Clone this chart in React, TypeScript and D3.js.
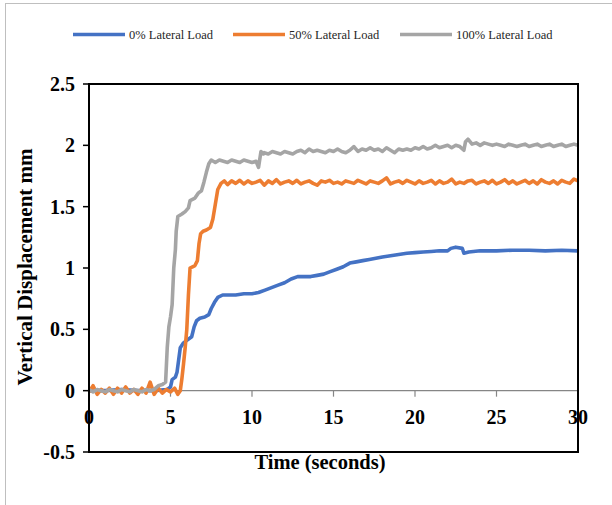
import React from "react";
import * as d3 from "d3";

const seriesNames = ["0% Lateral Load", "50% Lateral Load", "100% Lateral Load"];
const seriesColors = ["#4472C4", "#ED7D31", "#A5A5A5"];
const xTicks = [0, 5, 10, 15, 20, 25, 30];
const yTicks = [-0.5, 0, 0.5, 1, 1.5, 2, 2.5];
const yTickLabels = ["-0.5", "0", "0.5", "1", "1.5", "2", "2.5"];

const load0: [number, number][] = [
  [0, 0.0], [1, 0.0], [2, 0.01], [3, 0.0], [4, 0.0], [4.8, 0.01], [5.0, 0.03], [5.1, 0.09], [5.3, 0.11],
  [5.4, 0.15], [5.5, 0.25], [5.6, 0.35], [5.8, 0.39], [6.0, 0.41], [6.3, 0.44], [6.45, 0.52], [6.6, 0.57],
  [6.8, 0.59], [7.1, 0.6], [7.35, 0.62], [7.5, 0.67], [7.7, 0.72], [7.9, 0.76], [8.2, 0.78], [8.6, 0.78],
  [9, 0.78], [9.5, 0.79], [10, 0.79], [10.4, 0.8], [10.8, 0.82], [11.2, 0.84], [11.6, 0.86], [12, 0.88],
  [12.4, 0.91], [12.8, 0.93], [13.2, 0.93], [13.6, 0.93], [14, 0.94], [14.4, 0.95], [14.8, 0.97],
  [15.2, 0.99], [15.6, 1.01], [16, 1.04], [16.4, 1.05], [16.8, 1.06], [17.2, 1.07], [17.6, 1.08],
  [18, 1.09], [18.5, 1.1], [19, 1.11], [19.5, 1.12], [20, 1.125], [20.5, 1.13], [21, 1.135], [21.5, 1.14],
  [22, 1.14], [22.2, 1.16], [22.5, 1.17], [22.9, 1.16], [23.0, 1.12], [23.3, 1.13], [24, 1.14], [25, 1.14],
  [26, 1.145], [27, 1.145], [28, 1.14], [29, 1.145], [30, 1.14],
];

const load50: [number, number][] = [
  [0, -0.01], [0.25, 0.04], [0.5, -0.03], [0.75, 0.01], [1, -0.02], [1.25, 0.02], [1.5, -0.03], [1.75, 0.02],
  [2, -0.02], [2.25, 0.03], [2.5, -0.02], [2.75, 0.01], [3, -0.03], [3.25, 0.02], [3.5, -0.02], [3.75, 0.07],
  [4, -0.03], [4.25, 0.02], [4.5, -0.02], [4.75, 0.01], [5, -0.01], [5.25, 0.02], [5.45, -0.03], [5.6, 0.0],
  [5.7, 0.1], [5.8, 0.22], [5.9, 0.35], [6.0, 0.5], [6.1, 0.78], [6.2, 1.0], [6.35, 1.01], [6.5, 1.02],
  [6.65, 1.06], [6.75, 1.2], [6.85, 1.28], [7.0, 1.3], [7.2, 1.31], [7.45, 1.33], [7.6, 1.4], [7.75, 1.52],
  [7.9, 1.64], [8.1, 1.69], [8.3, 1.71], [8.5, 1.68], [8.75, 1.71], [9, 1.69], [9.25, 1.715], [9.5, 1.685],
  [9.75, 1.71], [10, 1.69], [10.25, 1.7], [10.5, 1.715], [10.75, 1.675], [11, 1.71], [11.25, 1.69],
  [11.5, 1.72], [11.75, 1.685], [12, 1.7], [12.25, 1.71], [12.5, 1.69], [12.75, 1.715], [13, 1.685],
  [13.25, 1.7], [13.5, 1.71], [13.75, 1.69], [14, 1.675], [14.25, 1.71], [14.5, 1.7], [14.75, 1.715],
  [15, 1.69], [15.25, 1.7], [15.5, 1.685], [15.75, 1.71], [16, 1.7], [16.25, 1.69], [16.5, 1.715],
  [16.75, 1.7], [17, 1.685], [17.25, 1.71], [17.5, 1.7], [17.75, 1.69], [18, 1.71], [18.25, 1.735],
  [18.5, 1.685], [18.75, 1.7], [19, 1.71], [19.25, 1.69], [19.5, 1.715], [19.75, 1.7], [20, 1.685],
  [20.25, 1.71], [20.5, 1.69], [20.75, 1.7], [21, 1.715], [21.25, 1.685], [21.5, 1.71], [21.75, 1.69],
  [22, 1.7], [22.25, 1.725], [22.5, 1.685], [22.75, 1.7], [23, 1.69], [23.25, 1.71], [23.5, 1.715],
  [23.75, 1.685], [24, 1.7], [24.25, 1.71], [24.5, 1.69], [24.75, 1.715], [25, 1.685], [25.25, 1.7],
  [25.5, 1.72], [25.75, 1.69], [26, 1.71], [26.25, 1.685], [26.5, 1.7], [26.75, 1.715], [27, 1.69],
  [27.25, 1.71], [27.5, 1.685], [27.75, 1.72], [28, 1.7], [28.25, 1.69], [28.5, 1.71], [28.75, 1.685],
  [29, 1.715], [29.25, 1.7], [29.5, 1.69], [29.75, 1.725], [30, 1.71],
];

const load100: [number, number][] = [
  [0, 0.01], [0.25, -0.01], [0.5, 0.01], [0.75, 0.0], [1, -0.01], [1.25, 0.01], [1.5, 0.0], [1.75, -0.01],
  [2, 0.01], [2.25, 0.0], [2.5, -0.01], [2.75, 0.01], [3, 0.0], [3.25, -0.01], [3.5, 0.01], [3.75, 0.0],
  [4, 0.01], [4.25, 0.04], [4.5, 0.05], [4.7, 0.07], [4.8, 0.35], [4.9, 0.52], [5.0, 0.6], [5.1, 0.7],
  [5.2, 1.0], [5.3, 1.15], [5.35, 1.3], [5.45, 1.42], [5.7, 1.44], [5.9, 1.46], [6.1, 1.49], [6.2, 1.55],
  [6.5, 1.57], [6.7, 1.61], [6.9, 1.63], [7.05, 1.7], [7.2, 1.78], [7.35, 1.85], [7.5, 1.88], [7.75, 1.86],
  [8, 1.88], [8.25, 1.87], [8.5, 1.86], [8.75, 1.88], [9, 1.87], [9.25, 1.86], [9.5, 1.88], [9.75, 1.87],
  [10, 1.86], [10.25, 1.87], [10.4, 1.82], [10.55, 1.95], [10.7, 1.93], [10.75, 1.94], [11, 1.93],
  [11.25, 1.95], [11.5, 1.94], [11.75, 1.93], [12, 1.95], [12.25, 1.94], [12.5, 1.93], [12.75, 1.95],
  [13, 1.96], [13.25, 1.94], [13.5, 1.97], [13.75, 1.95], [14, 1.96], [14.25, 1.95], [14.5, 1.94],
  [14.75, 1.96], [15, 1.95], [15.25, 1.97], [15.5, 1.95], [15.75, 1.94], [16, 1.96], [16.25, 1.99],
  [16.5, 1.95], [16.75, 1.97], [17, 1.96], [17.25, 1.98], [17.5, 1.96], [17.75, 1.97], [18, 1.95],
  [18.25, 1.98], [18.5, 1.96], [18.75, 1.94], [19, 1.97], [19.25, 1.96], [19.5, 1.97], [19.75, 1.96],
  [20, 1.98], [20.25, 1.97], [20.5, 1.99], [20.75, 1.97], [21, 1.98], [21.25, 2.0], [21.5, 1.98],
  [21.75, 1.99], [22, 2.0], [22.25, 1.98], [22.5, 2.0], [22.75, 1.99], [23, 1.96], [23.1, 2.03],
  [23.25, 2.05], [23.5, 2.01], [23.75, 2.02], [24, 2.0], [24.25, 2.02], [24.5, 2.01], [24.75, 2.0],
  [25, 2.01], [25.25, 2.0], [25.5, 1.99], [25.75, 2.01], [26, 2.0], [26.25, 1.99], [26.5, 2.0],
  [26.75, 2.01], [27, 1.99], [27.25, 2.0], [27.5, 2.01], [27.75, 1.99], [28, 2.0], [28.25, 2.01],
  [28.5, 1.99], [28.75, 2.0], [29, 2.01], [29.25, 1.99], [29.5, 2.0], [29.75, 2.01], [30, 2.0],
];

const allSeries = [load0, load50, load100];

export default function App() {
  const W = 612;
  const H = 505;
  const left = 89;
  const right = 578;
  const top = 84;
  const bottom = 452;
  const x = d3.scaleLinear().domain([0, 30]).range([left, right]);
  const y = d3.scaleLinear().domain([-0.5, 2.5]).range([bottom, top]);
  const line = d3
    .line<[number, number]>()
    .x((d) => x(d[0]))
    .y((d) => y(d[1]));
  const serif = "'Liberation Serif', 'Times New Roman', serif";
  const legendX = [73, 233, 400];

  return (
    <svg
      width={W}
      height={H}
      style={{ position: "absolute", left: 0, top: 0, background: "#fff" }}
      fontFamily={serif}
    >
      <rect x={0} y={0} width={W} height={H} fill="#fff" />
      <rect x={5.5} y={3.5} width={700} height={600} fill="none" stroke="#BFBFBF" strokeWidth={1} />

      {/* legend */}
      {seriesNames.map((n, i) => (
        <g key={n}>
          <line
            x1={legendX[i]}
            x2={legendX[i] + 52}
            y1={34.5}
            y2={34.5}
            stroke={seriesColors[i]}
            strokeWidth={3.5}
          />
          <text x={legendX[i] + 56} y={38.5} fontSize={12.5} fill="#262626">
            {n}
          </text>
        </g>
      ))}

      {/* zero axis line */}
      <line x1={left} x2={right} y1={y(0)} y2={y(0)} stroke="#868686" strokeWidth={1.2} />
      {xTicks.map((t) => (
        <line key={"xt" + t} x1={x(t)} x2={x(t)} y1={y(0)} y2={y(0) + 6} stroke="#868686" strokeWidth={1.2} />
      ))}

      {/* series */}
      {allSeries.map((s, i) => (
        <path
          key={i}
          d={line(s) || ""}
          fill="none"
          stroke={seriesColors[i]}
          strokeWidth={3.6}
          strokeLinejoin="round"
        />
      ))}

      {/* plot border */}
      <rect x={left} y={top} width={right - left} height={bottom - top} fill="none" stroke="#000" strokeWidth={2} />

      {/* y ticks */}
      {yTicks.map((t, i) => (
        <g key={"yt" + t}>
          <line x1={left - 6} x2={left} y1={y(t)} y2={y(t)} stroke="#000" strokeWidth={1.5} />
          <text
            x={left - 14}
            y={y(t)}
            dy="0.35em"
            textAnchor="end"
            fontSize={20}
            fontWeight="bold"
            fill="#000"
          >
            {yTickLabels[i]}
          </text>
        </g>
      ))}

      {/* x tick labels */}
      {xTicks.map((t) => (
        <text key={"xl" + t} x={x(t)} y={424} textAnchor="middle" fontSize={20} fontWeight="bold" fill="#000">
          {t}
        </text>
      ))}

      {/* axis titles */}
      <text x={320} y={469} textAnchor="middle" fontSize={20.5} fontWeight="bold" fill="#000">
        Time (seconds)
      </text>
      <text
        transform={`translate(32, ${(top + bottom) / 2 - 1}) rotate(-90)`}
        textAnchor="middle"
        fontSize={21}
        fontWeight="bold"
        fill="#000"
      >
        Vertical Displacement mm
      </text>
    </svg>
  );
}
